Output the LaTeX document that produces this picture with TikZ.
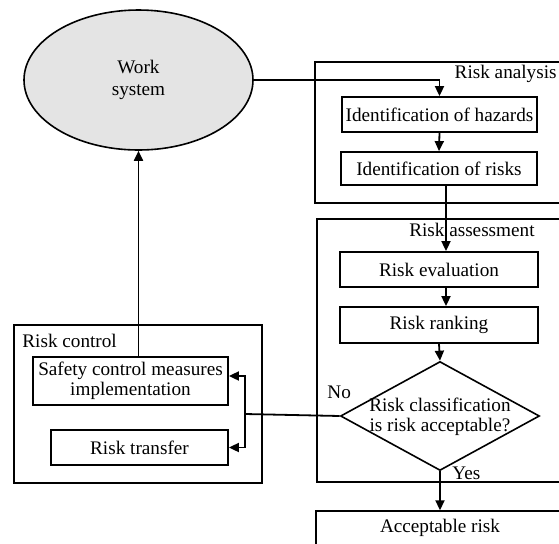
\documentclass[tikz,border=0pt]{standalone}
\usepackage{fontspec}
\setmainfont{Liberation Serif}
\usetikzlibrary{positioning,shapes.geometric,arrows.meta,calc}
\definecolor{worklight}{HTML}{E4E4E4}

\begin{document}
\begin{tikzpicture}[x=0.5pt, y=-0.5pt,
    font=\fontsize{9.6}{9.8}\selectfont,
    box/.style={draw, line width=0.9pt, inner sep=0pt, align=center},
    frame/.style={draw, line width=0.7pt, inner sep=0pt},
    arrow/.style={line width=0.9pt, -{Triangle[length=5pt, width=4.5pt]}},
    link/.style={line width=0.9pt}]
      \useasboundingbox (0,0) rectangle (559,543);
      \clip (0,0) rectangle (559,543);

      % work system
      \node[ellipse, draw, line width=0.8pt, fill=worklight, minimum width=114.5pt, minimum height=70pt,
        align=center, font=\fontsize{9.6}{11}\selectfont] (work) at (138.5,80) {Work\\system};

      % risk analysis
      \node[frame, minimum width=130pt, minimum height=70.5pt] (analysis) at (445,132.5) {};
      \node[anchor=base east, inner sep=0pt] (analysislabel) at (557,78) {Risk analysis};
      \node[box, minimum width=97.5pt, minimum height=17.5pt] (hazards) at (439.5,114.5) {Identification of hazards};
      \node[box, minimum width=98pt, minimum height=16.5pt] (risks) at (439,168.5) {Identification of risks};

      % risk assessment
      \node[frame, minimum width=129pt, minimum height=131.5pt] (assessment) at (446,350.5) {};
      \node[anchor=base east, inner sep=0pt] (assessmentlabel) at (535,236) {Risk assessment};
      \node[box, minimum width=99pt, minimum height=17.5pt] (evaluation) at (439,269.5) {Risk evaluation};
      \node[box, minimum width=99pt, minimum height=18pt] (ranking) at (439,325) {Risk ranking};
      \node[diamond, draw, line width=0.8pt, inner sep=0pt, minimum width=99.5pt, minimum height=54.5pt] (decision) at (440,416) {};
      \node[align=center, inner sep=0pt] (decisiontext) at (440,417) {Risk classification\\is risk acceptable?};
      \node[anchor=base west, inner sep=0pt] (no) at (327,398) {No};
      \node[anchor=base west, inner sep=0pt] (yes) at (452,479) {Yes};

      % acceptable risk
      \node[frame, minimum width=129.5pt, minimum height=29pt] (accept) at (445.5,540) {};
      \node[anchor=base, inner sep=0pt] (accepttext) at (440,532) {Acceptable risk};

      % risk control
      \node[frame, minimum width=124pt, minimum height=79pt] (control) at (138,404) {};
      \node[anchor=base west, inner sep=0pt] (controllabel) at (22,347) {Risk control};
      \node[box, minimum width=97.5pt, minimum height=24pt] (safety) at (130.5,381) {Safety control measures\\implementation};
      \node[box, minimum width=88.5pt, minimum height=17.5pt] (transfer) at (139.5,447.5) {Risk transfer};
      \coordinate (split) at (245,414);

      % connectors
      \draw[arrow] (work.east) -| (hazards.north);
      \draw[arrow] (hazards.south) -- (risks.north);
      \draw[arrow] ([xshift=3.5pt]risks.south) -- ([xshift=3.5pt]evaluation.north);
      \draw[arrow] ([xshift=3.5pt]evaluation.south) -- ([xshift=3.5pt]ranking.north);
      \draw[arrow] (ranking.south) -- (decision.north);
      \draw[arrow] (decision.south) -- (decision.south |- accept.north);
      \draw[link] (decision.west) -- (split);
      \draw[arrow] (split) |- ([yshift=2.5pt]safety.east);
      \draw[arrow] (split) |- (transfer.east);
      \draw[arrow] (safety.north -| work.south) -- (work.south);
    \end{tikzpicture}
\end{document}
